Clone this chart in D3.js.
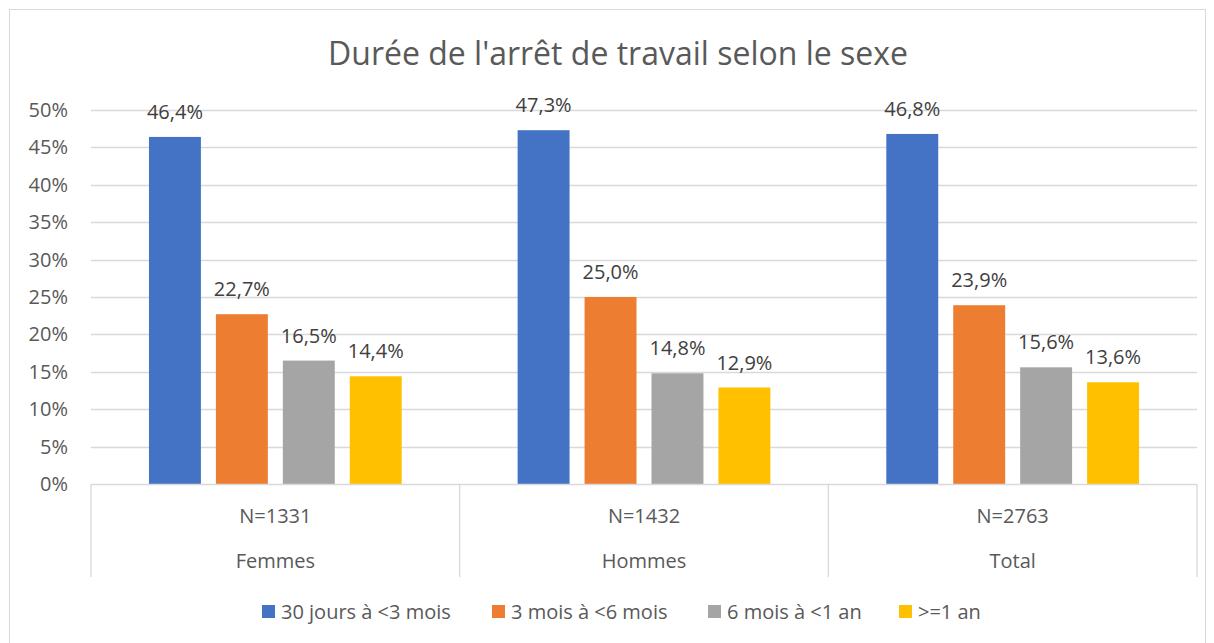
<!DOCTYPE html>
<html>
<head>
<meta charset="utf-8">
<script src="https://cdn.jsdelivr.net/npm/d3@7"></script>
<style>
  body { margin: 0; background: #fff; }
  svg text { font-family: "Open Sans", "Noto Sans", sans-serif; fill: #595959; }
</style>
</head>
<body>
<div id="chart"></div>
<script>
// Données du graphique
var groupes = ["Femmes", "Hommes", "Total"];
var effectifs = ["N=1331", "N=1432", "N=2763"];
var series = ["30 jours à <3 mois", "3 mois à <6 mois", "6 mois à <1 an", ">=1 an"];
var couleurs = ["#4472C4", "#ED7D31", "#A5A5A5", "#FFC000"];
var valeurs = [
    [46.4, 22.7, 16.5, 14.4],   // Femmes
    [47.3, 25.0, 14.8, 12.9],   // Hommes
    [46.8, 23.9, 15.6, 13.6]    // Total
];
var ticksY = [0, 5, 10, 15, 20, 25, 30, 35, 40, 45, 50];

var W = 1214, H = 643;
var mLeft = 91, mRight = 1197, mTop = 110, mBottom = 484;

var svg = d3.select("#chart").append("svg")
    .attr("width", W)
    .attr("height", H);

// cadre
svg.append("rect")
    .attr("x", 9.5).attr("y", 9.5)
    .attr("width", 1196).attr("height", 660)
    .attr("fill", "none")
    .attr("stroke", "#d9d9d9");

// titre
svg.append("text")
    .attr("x", 618).attr("y", 65)
    .attr("text-anchor", "middle")
    .style("font-size", "32px")
    .text("Durée de l'arrêt de travail selon le sexe");

var y = d3.scaleLinear().domain([0, 50]).range([mBottom, mTop]);

var x0 = d3.scaleBand()
    .domain(groupes)
    .range([mLeft, mRight])
    .padding(0);

var x1 = d3.scaleBand()
    .domain(series)
    .range([0, x0.bandwidth()])
    .paddingInner(0.224)
    .paddingOuter(0.866);

// grille
svg.append("g").selectAll("line")
    .data(ticksY.filter(d => d > 0))
    .enter().append("line")
    .attr("x1", mLeft).attr("x2", mRight)
    .attr("y1", d => Math.round(y(d)) + 0.5)
    .attr("y2", d => Math.round(y(d)) + 0.5)
    .attr("stroke", "#d9d9d9")
    .attr("stroke-width", 1.3);

// étiquettes axe Y
svg.append("g").selectAll("text")
    .data(ticksY)
    .enter().append("text")
    .attr("x", 68)
    .attr("y", d => y(d) + 7)
    .attr("text-anchor", "end")
    .style("font-size", "20px")
    .text(d => d + "%");

// barres
var g = svg.append("g").selectAll("g")
    .data(groupes)
    .enter().append("g")
    .attr("transform", d => "translate(" + x0(d) + ",0)");

g.selectAll("rect")
    .data((d, i) => valeurs[i].map((v, j) => ({ serie: series[j], v: v, j: j })))
    .enter().append("rect")
    .attr("x", d => x1(d.serie))
    .attr("y", d => y(d.v))
    .attr("width", x1.bandwidth())
    .attr("height", d => mBottom - y(d.v))
    .attr("fill", d => couleurs[d.j]);

g.selectAll("text")
    .data((d, i) => valeurs[i].map((v, j) => ({ serie: series[j], v: v })))
    .enter().append("text")
    .attr("x", d => x1(d.serie) + x1.bandwidth() / 2)
    .attr("y", d => y(d.v) - 18)
    .attr("text-anchor", "middle")
    .style("font-size", "20px")
    .style("fill", "#404040")
    .text(d => d.v.toFixed(1).replace(".", ",") + "%");

// axe des catégories
var axe = svg.append("g");
axe.append("line")
    .attr("x1", mLeft).attr("x2", mRight)
    .attr("y1", mBottom + 0.5).attr("y2", mBottom + 0.5)
    .attr("stroke", "#d9d9d9").attr("stroke-width", 1.3);

var bords = groupes.map(d => x0(d)).concat([mRight]);
axe.selectAll("line.sep")
    .data(bords)
    .enter().append("line")
    .attr("class", "sep")
    .attr("x1", d => d).attr("x2", d => d)
    .attr("y1", mBottom).attr("y2", 577)
    .attr("stroke", "#d9d9d9").attr("stroke-width", 1.3);

axe.selectAll("text.n")
    .data(groupes)
    .enter().append("text")
    .attr("class", "n")
    .attr("x", (d) => x0(d) + x0.bandwidth() / 2)
    .attr("y", 523)
    .attr("text-anchor", "middle")
    .style("font-size", "20px")
    .text((d, i) => effectifs[i]);

axe.selectAll("text.grp")
    .data(groupes)
    .enter().append("text")
    .attr("class", "grp")
    .attr("x", d => x0(d) + x0.bandwidth() / 2)
    .attr("y", 568)
    .attr("text-anchor", "middle")
    .style("font-size", "20px")
    .text(d => d);

// légende
var legX = [262, 492, 708, 899];
var leg = svg.append("g").selectAll("g")
    .data(series)
    .enter().append("g")
    .attr("transform", (d, i) => "translate(" + legX[i] + ",605)");

leg.append("rect")
    .attr("width", 13).attr("height", 13)
    .attr("fill", (d, i) => couleurs[i]);

leg.append("text")
    .attr("x", 19).attr("y", 14)
    .style("font-size", "20px")
    .text(d => d);
</script>
</body>
</html>
